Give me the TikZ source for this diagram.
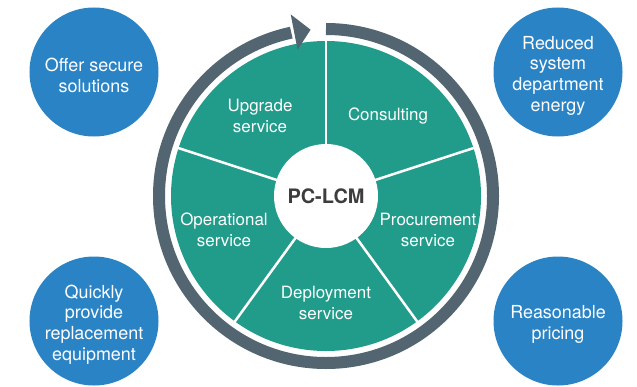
\documentclass[tikz,border=0pt]{standalone}
\usepackage{fontspec}
\setmainfont{TeX Gyre Heros}
\usetikzlibrary{calc}
\definecolor{tealc}{RGB}{33,155,138}
\definecolor{ringc}{RGB}{83,101,112}
\definecolor{bluec}{RGB}{41,131,197}
\definecolor{hubtext}{RGB}{61,61,61}
\tikzset{
  seglabel/.style={text=white, align=center, font=\fontsize{17}{21}\selectfont, inner sep=0pt},
  benefit/.style={circle, fill=bluec, minimum size=129bp, inner sep=0pt},
  benefittext/.style={text=white, align=center, inner sep=0pt, yshift=-3.5bp, font=\fontsize{18}{20.7}\selectfont},
  hubnode/.style={circle, fill=white, minimum size=104bp, inner sep=0pt, text=hubtext, font=\fontsize{20}{22}\selectfont\bfseries},
  divider/.style={white, line width=2.5bp},
  ring/.style={ringc, line width=12bp}
}
\begin{document}
\begin{tikzpicture}[x=1bp,y=1bp]
\useasboundingbox (0,0) rectangle (637,386);
\coordinate (c) at (326,190);
% teal wheel
\fill[tealc] (c) circle[radius=155bp];
\foreach \a in {90,18,-54,-126,162}
  \draw[divider] (c) -- ++(\a:157bp);
\node[hubnode] (hub) at (c) {PC-LCM};
% cycle ring with arrow
\draw[ring] ($(c)+(90:167bp)$) arc[start angle=90, end angle=-258, radius=167bp];
\fill[ringc] ($(c)+(101:185bp)$) -- ($(c)+(95.3:167bp)$) -- ($(c)+(101:149bp)$) -- cycle;
% segment labels
\node[seglabel] (upgrade) at (260,270) {Upgrade\\service};
\node[seglabel] (consult) at (388,270) {Consulting};
\node[seglabel] (oper) at (224,156) {Operational\\service};
\node[seglabel] (proc) at (428,156) {Procurement\\service};
\node[seglabel] (deploy) at (326,83) {Deployment\\service};
% benefit circles
\node[benefit] (secure) at (94,314) {};
\node[benefittext] (securet) at (secure.center) {Offer secure\\solutions};
\node[benefit] (energy) at (558,314) {};
\node[benefittext] (energyt) at (energy.center) {Reduced\\system\\department\\energy};
\node[benefit] (replace) at (94,65) {};
\node[benefittext] (replacet) at (replace.center) {Quickly\\provide\\replacement\\equipment};
\node[benefit] (pricing) at (558,65) {};
\node[benefittext] (pricingt) at (pricing.center) {Reasonable\\pricing};
\end{tikzpicture}
\end{document}
